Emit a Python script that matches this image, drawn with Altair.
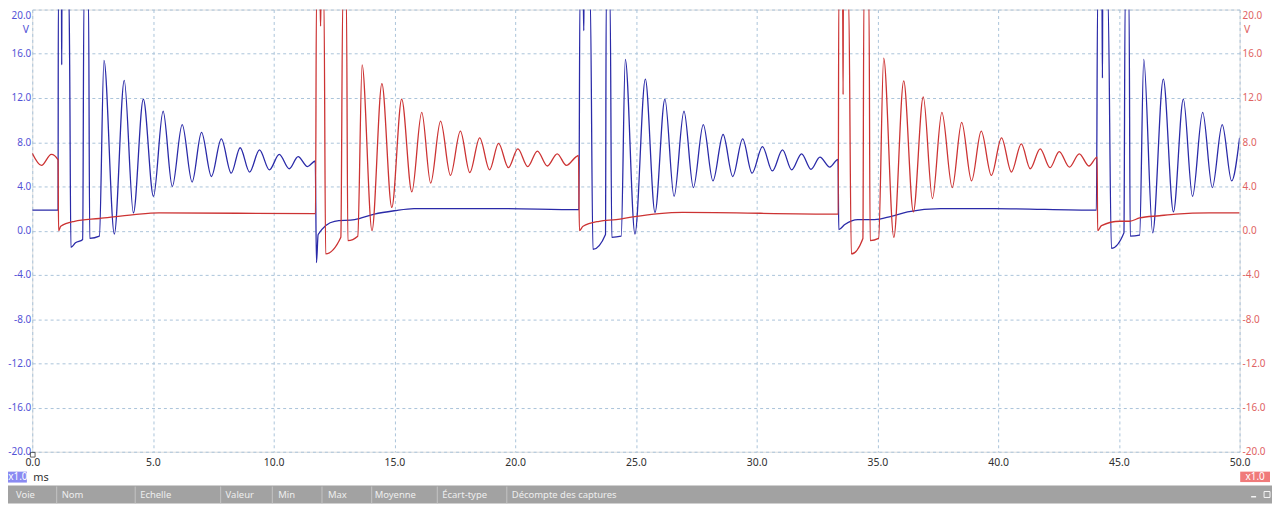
import altair as alt
import pandas as pd

# ---------------- data (time in ms, volts) ----------------
# Channel A (blue)
blue_t_pre = [0.00, 1.07]
blue_v_pre = [1.85, 1.85]
blue_t_b1 = [1.08, 1.21, 1.22, 1.23, 1.52, 1.55, 1.60, 1.79, 2.09, 2.14, 2.33, 2.38, 2.78]
blue_v_b1 = [21, 21, 15.0, 21, 21, 15.0, -1.5, -1.1, -0.8, 21, 21, -0.7, -0.5]
blue_t_r1 = [2.97, 3.40, 3.81, 4.19, 4.60, 5.02, 5.42, 5.80, 6.21, 6.62, 7.01, 7.42,
             7.83, 8.24, 8.61, 9.00, 9.41, 9.82, 10.23, 10.64, 11.01, 11.40, 11.72]
blue_v_r1 = [15.4, -0.3, 13.6, 1.6, 11.9, 3.1, 10.8, 4.0, 9.6, 4.4, 8.9, 4.9,
             8.3, 5.2, 7.5, 5.3, 7.3, 5.5, 6.9, 5.6, 6.7, 5.8, 6.3]
blue_t_f1 = [11.77, 11.84, 12.52, 13.35, 14.17, 14.99, 15.81, 19.24, 22.64]
blue_v_f1 = [-2.9, -0.35, 0.85, 1.0, 1.5, 1.8, 2.0, 2.0, 1.9]
blue_t_b2 = [22.68, 22.82, 22.84, 22.85, 23.11, 23.22, 23.74, 23.77, 23.93, 24.00, 24.39]
blue_v_b2 = [21, 21, 18.1, 21, 21, -1.7, -0.35, 21, 21, -0.6, -0.5]
blue_t_r2 = [24.56, 24.96, 25.39, 25.79, 26.20, 26.58, 26.99, 27.38, 27.79, 28.19, 28.61, 29.01,
             29.42, 29.81, 30.24, 30.65, 31.07, 31.45, 31.86, 32.25, 32.62, 33.03, 33.37]
blue_v_r2 = [15.5, -0.3, 13.7, 1.65, 11.9, 3.1, 10.8, 3.9, 9.6, 4.5, 8.7, 4.9,
             8.3, 5.2, 7.6, 5.4, 7.3, 5.5, 6.95, 5.55, 6.65, 5.75, 6.45]
blue_t_f2 = [33.40, 33.65, 34.19, 34.88, 35.57, 36.25, 37.62, 39.82, 44.07]
blue_v_f2 = [0.1, 0.55, 1.0, 1.0, 1.3, 1.7, 2.0, 2.0, 1.85]
blue_t_b3 = [44.12, 44.30, 44.32, 44.33, 44.55, 44.69, 45.21, 45.26, 45.42, 45.47, 45.86]
blue_v_b3 = [21, 21, 13.8, 21, 21, -1.6, -0.2, 21, 21, -0.5, -0.4]
blue_t_r3 = [46.03, 46.40, 46.84, 47.26, 47.67, 48.05, 48.47, 48.87, 49.28, 49.67, 50.00]
blue_v_r3 = [15.5, -0.2, 13.7, 1.7, 11.9, 3.1, 10.7, 3.9, 9.6, 4.5, 8.4]

# Channel B (red)
red_t_pre = [0.00, 0.38, 0.79, 1.07, 1.09, 1.18, 1.75, 2.78, 4.22, 5.25, 11.73]
red_v_pre = [7.0, 5.9, 6.9, 6.4, 0.0, 0.4, 0.85, 1.1, 1.45, 1.6, 1.55]
red_t_b1 = [11.77, 11.92, 11.94, 11.96, 12.08, 12.15, 12.78, 12.86, 13.01, 13.07, 13.48]
red_v_b1 = [21, 21, 18.5, 21, 21, -2.1, -0.6, 21, 21, -0.9, -0.5]
red_t_r1 = [13.66, 14.07, 14.48, 14.89, 15.30, 15.72, 16.13, 16.50, 16.91, 17.32, 17.73, 18.12,
            18.53, 18.94, 19.31, 19.72, 20.11, 20.52, 20.92, 21.33, 21.74, 22.12, 22.53, 22.62]
red_v_r1 = [15.0, 0.0, 13.3, 2.1, 11.9, 3.5, 10.7, 4.3, 9.9, 5.0, 9.0, 5.25,
            8.4, 5.5, 7.9, 5.7, 7.4, 5.8, 7.2, 5.85, 6.95, 5.9, 6.7, 6.8]
red_t_f1 = [22.66, 22.81, 23.48, 24.18, 24.87, 25.96, 26.93, 33.38]
red_v_f1 = [0.0, 0.4, 0.85, 1.0, 1.25, 1.55, 1.65, 1.5]
red_t_b2 = [33.40, 33.56, 33.58, 33.59, 33.81, 33.92, 34.40, 34.44, 34.65, 34.70, 35.05]
red_v_b2 = [21, 21, 12.3, 21, 21, -2.1, -0.7, 21, 21, -0.9, -0.7]
red_t_r2 = [35.26, 35.68, 36.09, 36.49, 36.90, 37.28, 37.67, 38.10, 38.49, 38.90, 39.30, 39.72,
            40.14, 40.55, 40.96, 41.33, 41.74, 42.15, 42.53, 42.95, 43.36, 43.76, 44.10]
red_v_r2 = [15.6, -0.6, 13.55, 1.7, 12.1, 2.9, 10.7, 3.9, 9.8, 4.5, 9.0, 5.0,
            8.4, 5.3, 7.85, 5.6, 7.4, 5.7, 7.15, 5.75, 6.95, 5.85, 6.65]
red_t_f2 = [44.12, 44.28, 45.04, 45.45, 45.86, 46.68, 47.36, 48.74, 50.00]
red_v_f2 = [0.0, 0.45, 0.85, 0.85, 1.15, 1.35, 1.5, 1.6, 1.6]

x_ticks = [0, 5, 10, 15, 20, 25, 30, 35, 40, 45, 50]
y_ticks = [-20, -16, -12, -8, -4, 0, 4, 8, 12, 16, 20]
headers = ["Voie", "Nom", "Echelle", "Valeur", "Min", "Max", "Moyenne",
           "Écart-type", "Décompte des captures"]

# ---------------- build tables ----------------
blue_t = (blue_t_pre + blue_t_b1 + blue_t_r1 + blue_t_f1 + blue_t_b2 + blue_t_r2
          + blue_t_f2 + blue_t_b3 + blue_t_r3)
blue_v = (blue_v_pre + blue_v_b1 + blue_v_r1 + blue_v_f1 + blue_v_b2 + blue_v_r2
          + blue_v_f2 + blue_v_b3 + blue_v_r3)
red_t = red_t_pre + red_t_b1 + red_t_r1 + red_t_f1 + red_t_b2 + red_t_r2 + red_t_f2
red_v = red_v_pre + red_v_b1 + red_v_r1 + red_v_f1 + red_v_b2 + red_v_r2 + red_v_f2
assert len(blue_t) == len(blue_v) and len(red_t) == len(red_v)

blue_df = pd.DataFrame({"t": blue_t, "v": blue_v})
red_df = pd.DataFrame({"t": red_t, "v": red_v})

# ---------------- styles ----------------
FONT = "Noto Sans"
BLUE = "#2a2aa8"
RED = "#cc3333"
BLUE_LBL = "#5252d6"
RED_LBL = "#e06262"
GRID = "#aac4da"
W, H = 1215, 445
HYPHEN_LABEL = ("datum.value < 0 ? '-' + format(-datum.value, '.1f') "
                ": format(datum.value, '.1f')")
TOP_LABEL_NUDGE = {"condition": {"test": "datum.value == 20", "value": 6}, "value": 0}

x_scale = alt.Scale(domain=[0, 50], nice=False, zero=False)
y_scale = alt.Scale(domain=[-20, 20], nice=False, zero=False)

x_axis = alt.Axis(values=x_ticks, format=".1f", title=None, grid=True, gridColor=GRID,
                  gridDash=[3, 3], gridWidth=1, ticks=False, domain=False,
                  labelColor="#303030", labelFont=FONT, labelFontSize=10.5,
                  labelPadding=6, labelFlush=False, labelOverlap=False)
left_axis = alt.Axis(values=y_ticks, labelExpr=HYPHEN_LABEL, title=None, orient="left",
                     grid=True, gridColor=GRID, gridDash=[3, 3], gridWidth=1, ticks=False,
                     domain=False, labelColor=BLUE_LBL, labelFont=FONT, labelFontSize=10,
                     labelPadding=1.5, labelOverlap=False, labelFlush=False,
                     labelOffset=TOP_LABEL_NUDGE)
right_axis = alt.Axis(values=y_ticks, labelExpr=HYPHEN_LABEL, title=None, orient="right",
                      grid=False, ticks=False, domain=False, labelColor=RED_LBL,
                      labelFont=FONT, labelFontSize=10, labelPadding=2.5,
                      labelOverlap=False, labelFlush=False, labelOffset=TOP_LABEL_NUDGE)

blue = alt.Chart(blue_df).mark_line(color=BLUE, strokeWidth=1.3, interpolate="monotone",
                                    clip=True).encode(
    x=alt.X("t:Q", scale=x_scale, axis=x_axis),
    y=alt.Y("v:Q", scale=y_scale, axis=left_axis),
)
red = alt.Chart(red_df).mark_line(color=RED, strokeWidth=1.3, interpolate="monotone",
                                  clip=True).encode(
    x=alt.X("t:Q", scale=x_scale, axis=x_axis),
    y=alt.Y("v:Q", scale=y_scale, axis=right_axis),
)

base = alt.Chart(pd.DataFrame({"k": [0]}))


def txt(s, x, y, color, size=11, align="center", font=FONT):
    return base.mark_text(text=s, color=color, fontSize=size, align=align,
                          baseline="middle", font=font).encode(
        x=alt.value(x), y=alt.value(y))


def box(x1, x2, y1, y2, color):
    return base.mark_rect(color=color).encode(
        x=alt.value(x1), x2=alt.value(x2), y=alt.value(y1), y2=alt.value(y2))


def vrule(x, y1, y2, color):
    return base.mark_rule(color=color, strokeWidth=1).encode(
        x=alt.value(x), y=alt.value(y1), y2=alt.value(y2))


OX = 32.4  # page x of plot origin
annots = [
    txt("V", -6.5, 21, BLUE_LBL, size=10.5),
    txt("V", 1222.5, 21, RED_LBL, size=10.5),
    base.mark_point(shape="square", filled=False, color="#222", size=22,
                    strokeWidth=1).encode(x=alt.value(0.5), y=alt.value(448)),
    box(-24.4, -5.4, 465, 476, "#8a8af2"),
    txt("x1.0", -14.5, 470.5, "white", size=10),
    txt("ms", 1, 471, "#303030", size=11, align="left"),
    box(1215.6, 1245.6, 465, 475.5, "#f07a7a"),
    txt("x1.0", 1230.6, 470.5, "white", size=10),
    box(-24.4, 1247.6, 479, 497, "#a2a2a2"),
]
sep_px = [57, 136, 222, 274, 324, 374, 440, 510]
for sx in sep_px:
    annots.append(vrule(sx - OX, 480, 497, "#c4c4c4"))
head_px = [16, 62, 141, 227, 280, 330, 377, 445, 515]
for name, hx in zip(headers, head_px):
    annots.append(txt(name, hx - OX, 488.5, "#eeeeee", size=9.5, align="left"))
annots.append(box(1259 - OX, 1264 - OX, 489.5, 491, "#f4f4f4"))
annots.append(base.mark_rect(fill="transparent", stroke="#f4f4f4", strokeWidth=1).encode(
    x=alt.value(1272 - OX), x2=alt.value(1278 - OX), y=alt.value(485), y2=alt.value(491)))

chart = alt.layer(blue, red, *annots).resolve_scale(y="independent").properties(
    width=W, height=H,
    autosize=alt.AutoSizeParams(type="none"),
    padding={"left": 24.4, "top": 0, "right": 32.6, "bottom": 52},
).configure_view(stroke="transparent").configure(background="white")

chart.save("out.html", embed_options={"renderer": "svg", "actions": False})
